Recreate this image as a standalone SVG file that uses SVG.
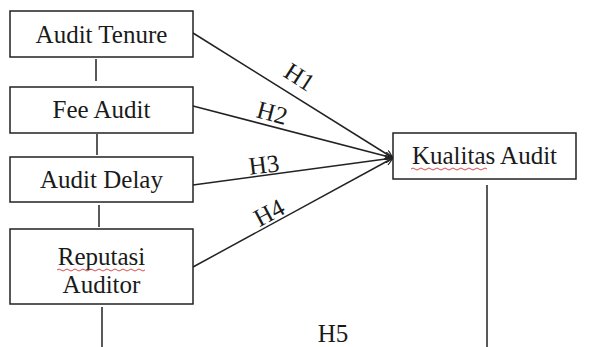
<svg xmlns="http://www.w3.org/2000/svg" width="594" height="347" viewBox="0 0 594 347">
<style>
.box{fill:#fff;stroke:#222;stroke-width:1.5}
.t{font-family:"Liberation Serif","Times New Roman",serif;font-size:25px;fill:#1a1a1a;text-anchor:middle}
.ln{stroke:#222;stroke-width:1.5;fill:none}
.sp{stroke:#d43a3a;stroke-width:0.9;fill:none}
</style>
<defs>
<marker id="ah" viewBox="0 0 10 10" refX="10" refY="5" markerWidth="8" markerHeight="8" markerUnits="userSpaceOnUse" orient="auto">
<path d="M0,0 L10,5 L0,10" fill="none" stroke="#222" stroke-width="1.5"/>
</marker>
</defs>
<rect width="594" height="347" fill="#fff"/>
<g id="connectors">
<line class="ln" x1="193" y1="33" x2="393" y2="158" marker-end="url(#ah)"/>
<line class="ln" x1="193" y1="106" x2="393" y2="158" marker-end="url(#ah)"/>
<line class="ln" x1="193" y1="185" x2="393" y2="158" marker-end="url(#ah)"/>
<line class="ln" x1="193" y1="267" x2="393" y2="158" marker-end="url(#ah)"/>
<line class="ln" x1="96" y1="59" x2="96" y2="81"/>
<line class="ln" x1="97" y1="134" x2="97" y2="155"/>
<line class="ln" x1="99" y1="205" x2="99" y2="227"/>
<line class="ln" x1="102" y1="307" x2="102" y2="347"/>
<line class="ln" x1="487" y1="185" x2="487" y2="347"/>
<text class="t" transform="translate(295,84) rotate(33)">H1</text>
<text class="t" transform="translate(270,121) rotate(15)">H2</text>
<text class="t" transform="translate(265,173) rotate(-7)">H3</text>
<text class="t" transform="translate(273,220) rotate(-28)">H4</text>
<text class="t" x="333" y="342">H5</text>
</g>
<g id="audit-tenure">
<rect class="box" x="10" y="11" width="183" height="46"/>
<text class="t" x="101.5" y="43">Audit Tenure</text>
</g>
<g id="fee-audit">
<rect class="box" x="10" y="87" width="183" height="46"/>
<text class="t" x="101.5" y="118">Fee Audit</text>
</g>
<g id="audit-delay">
<rect class="box" x="10" y="157" width="183" height="45"/>
<text class="t" x="101.5" y="188">Audit Delay</text>
</g>
<g id="reputasi-auditor">
<rect class="box" x="10" y="229" width="183" height="75"/>
<text class="t" x="101.5" y="265">Reputasi</text>
<text class="t" x="101.5" y="293">Auditor</text>
<path class="sp" d="M57,270 q2,-2 4,0 t4,0 t4,0 t4,0 t4,0 t4,0 t4,0 t4,0 t4,0 t4,0 t4,0 t4,0 t4,0 t4,0 t4,0 t4,0 t4,0 t4,0 t4,0 t4,0 t4,0 t4,0"/>
</g>
<g id="kualitas-audit">
<rect class="box" x="393" y="133" width="183" height="46"/>
<text class="t" x="484.5" y="164">Kualitas Audit</text>
<path class="sp" d="M411,169 q2,-2 4,0 t4,0 t4,0 t4,0 t4,0 t4,0 t4,0 t4,0 t4,0 t4,0 t4,0 t4,0 t4,0 t4,0 t4,0 t4,0 t4,0 t4,0 t4,0"/>
</g>
</svg>
